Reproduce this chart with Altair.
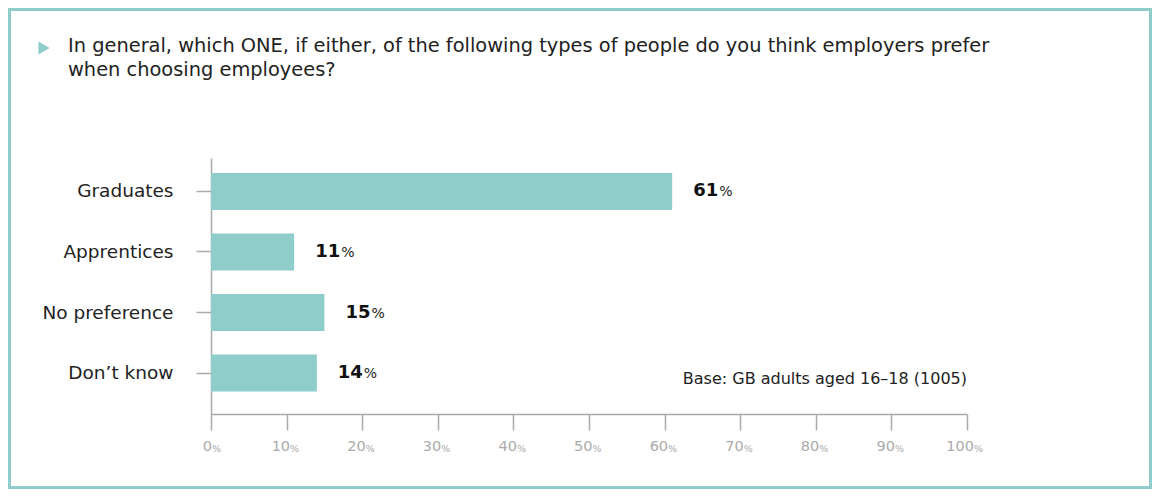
import altair as alt
import pandas as pd

categories = ["Graduates", "Apprentices", "No preference", "Don\u2019t know"]
values = [61, 11, 15, 14]
tick_values = [0, 10, 20, 30, 40, 50, 60, 70, 80, 90, 100]
title_lines = [
    "In general, which ONE, if either, of the following types of people do you think employers prefer",
    "when choosing employees?",
]
base_note = "Base: GB adults aged 16\u201318 (1005)"

TEAL = "#8ecdc9"
FONT = "DejaVu Sans"
W, H = 756, 256
PL, PT, PR, PB = 203, 150, 185, 75

df = pd.DataFrame({"category": categories, "value": values})
df["num"] = df["value"].astype(str)

ticks = pd.DataFrame({"v": tick_values})
ticks["num"] = ticks["v"].astype(str)
ticks["digits"] = ticks["num"].str.len()

xscale = alt.Scale(domain=[0, 100], nice=False)
yscale = alt.Scale(domain=categories, paddingInner=0.39, paddingOuter=0.31, align=0.4)

base = alt.Chart(df)

bars = base.mark_bar(color=TEAL).encode(
    x=alt.X("value:Q", scale=xscale,
            axis=alt.Axis(title=None, values=tick_values, labels=False, grid=False,
                          domainColor="#aaaaaa", tickColor="#aaaaaa", tickSize=16,
                          domainWidth=1.5, tickWidth=1.5)),
    y=alt.Y("category:N", sort=categories, scale=yscale,
            axis=alt.Axis(title=None, labelFont=FONT, labelFontSize=18.5, labelColor="#222222",
                          labelPadding=23, tickSize=15, tickColor="#aaaaaa", domainColor="#aaaaaa",
                          domainWidth=1.5, tickWidth=1.5, labelLimit=300)),
)

val_num = base.mark_text(align="left", baseline="middle", dx=21, font=FONT, fontSize=18,
                         fontWeight="bold", color="#111111").encode(
    x=alt.X("value:Q", scale=xscale), y=alt.Y("category:N", sort=categories, scale=yscale),
    text="num:N")
val_pct = base.mark_text(align="left", baseline="middle", dx=47, dy=1, font=FONT, fontSize=14,
                         color="#222222").encode(
    x=alt.X("value:Q", scale=xscale), y=alt.Y("category:N", sort=categories, scale=yscale),
    text=alt.value("%"))

tick_layers = []
for d, off in [(1, 1), (2, 3.5), (3, 7)]:
    tb = alt.Chart(ticks).transform_filter(f"datum.digits == {d}")
    tick_layers.append(tb.mark_text(align="right", baseline="middle", dx=off, font=FONT,
                                    fontSize=14.5, color="#aaaaaa").encode(
        x=alt.X("v:Q", scale=xscale), y=alt.value(H + 33), text="num:N"))
    tick_layers.append(tb.mark_text(align="left", baseline="middle", dx=off, dy=2, font=FONT,
                                    fontSize=9.5, color="#aaaaaa").encode(
        x=alt.X("v:Q", scale=xscale), y=alt.value(H + 33), text=alt.value("%")))

one = alt.Chart(pd.DataFrame({"a": [0]}))

note = one.mark_text(align="right", baseline="middle", font=FONT, fontSize=16,
                     color="#222222").encode(
    x=alt.datum(100, scale=xscale), y=alt.value(221), text=alt.value(base_note))

title = one.mark_text(align="left", baseline="top", font=FONT, fontSize=19.4, lineHeight=24,
                      color="#222222").encode(
    x=alt.value(68 - 211), y=alt.value(37 - 158), text=alt.value(title_lines))

bullet = one.mark_point(shape="triangle-right", filled=True, size=170, color=TEAL, opacity=1).encode(
    x=alt.value(44 - 211), y=alt.value(48 - 158))

border = one.mark_rect(filled=False, stroke=TEAL, strokeWidth=3).encode(
    x=alt.value(-PL + 1.5), x2=alt.value(W + PR - 1.5),
    y=alt.value(-PT + 1.5), y2=alt.value(H + PB - 1.5))

chart = alt.layer(bars, val_num, val_pct, *tick_layers, note, title, bullet, border).properties(
    width=W, height=H,
    autosize=alt.AutoSizeParams(type="none"),
    padding={"left": PL, "top": PT, "right": PR, "bottom": PB},
    background="white",
).configure_view(stroke=None)

chart.save("out.html", embed_options={"renderer": "svg", "actions": False})
